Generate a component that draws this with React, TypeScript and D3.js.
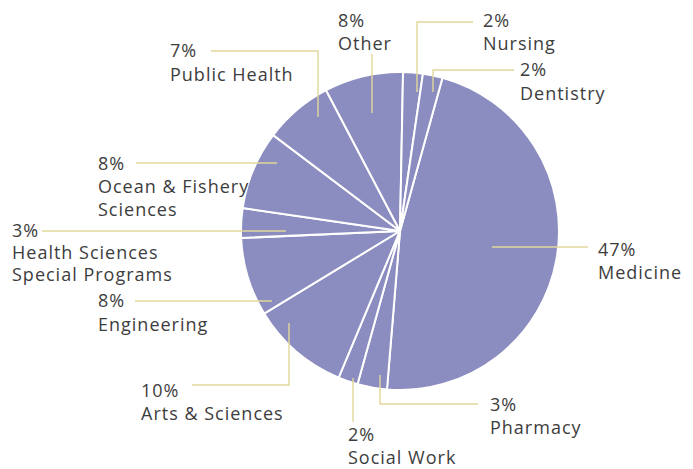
import { useEffect, useRef } from "react";
import * as d3 from "d3";

const categories = [
  "Medicine", "Pharmacy", "Social Work", "Arts & Sciences", "Engineering",
  "Health Sciences Special Programs", "Ocean & Fishery Sciences", "Public Health",
  "Other", "Nursing", "Dentistry",
];
const shares = [47, 3, 2, 10, 8, 3, 8, 7, 8, 2, 2];

// label text lines (first line is the percentage)
const labelLines: string[][] = [
  ["Medicine"], ["Pharmacy"], ["Social Work"], ["Arts & Sciences"], ["Engineering"],
  ["Health Sciences", "Special Programs"], ["Ocean & Fishery", "Sciences"], ["Public Health"],
  ["Other"], ["Nursing"], ["Dentistry"],
];

// annotation layout: leader polyline and text anchor per label
const layout: { leader: [number, number][]; x: number; y: number; gap: number }[] = [
  { leader: [[492, 247], [588, 247]], x: 598, y: 256, gap: 23 },
  { leader: [[380, 375], [380, 404], [478, 404]], x: 490, y: 411, gap: 23 },
  { leader: [[353, 378], [353, 422]], x: 348, y: 441, gap: 23 },
  { leader: [[289, 323], [289, 385], [192, 385]], x: 141, y: 397, gap: 23 },
  { leader: [[272, 301], [135, 301]], x: 98, y: 307, gap: 24 },
  { leader: [[286, 231], [42, 231]], x: 12, y: 237, gap: 22 },
  { leader: [[277, 163], [136, 163]], x: 98, y: 170, gap: 23 },
  { leader: [[318, 117], [318, 51], [211, 51]], x: 170, y: 57, gap: 24 },
  { leader: [[372, 113], [372, 54]], x: 338, y: 27, gap: 23 },
  { leader: [[417, 92], [417, 22], [473, 22]], x: 483, y: 27, gap: 23 },
  { leader: [[433, 92], [433, 70], [514, 70]], x: 520, y: 76, gap: 24 },
];

const W = 693, H = 469;
const CX = 400, CY = 231, R = 159;
const START = (15.5 * Math.PI) / 180;

export default function App() {
  const ref = useRef<SVGSVGElement>(null);

  useEffect(() => {
    if (!ref.current) return;
    const svg = d3.select(ref.current);
    svg.selectAll("*").remove();

    const pie = d3.pie<number>().sort(null).value(d => d).startAngle(START).endAngle(START + 2 * Math.PI);
    const arc = d3.arc<d3.PieArcDatum<number>>().innerRadius(0).outerRadius(R);

    const g = svg.append("g").attr("transform", `translate(${CX},${CY})`);
    g.selectAll("path").data(pie(shares)).join("path")
      .attr("d", arc)
      .attr("fill", "#8b8cbf")
      .attr("stroke", "#ffffff")
      .attr("stroke-width", 2)
      .attr("stroke-linejoin", "round");

    const line = d3.line();
    svg.selectAll(".leader").data(layout).join("path")
      .attr("class", "leader")
      .attr("d", d => line(d.leader))
      .attr("fill", "none")
      .attr("stroke", "#e2d89b")
      .attr("stroke-width", 1.4);

    const lbl = svg.selectAll(".lbl").data(categories).join("text")
      .attr("class", "lbl")
      .attr("font-family", "'Open Sans', sans-serif")
      .attr("font-size", "18px")
      .attr("letter-spacing", "1px")
      .attr("fill", "#3d3d3d");
    lbl.each(function (_, i) {
      const t = d3.select(this);
      const L = layout[i];
      const lines = [`${shares[i]}%`, ...labelLines[i]];
      lines.forEach((s, k) => {
        t.append("tspan").attr("x", L.x).attr("y", L.y + k * L.gap).text(s);
      });
    });
  }, []);

  return (
    <svg ref={ref} width={W} height={H}
      style={{ position: "absolute", left: 0, top: 0, background: "#fff" }} />
  );
}
